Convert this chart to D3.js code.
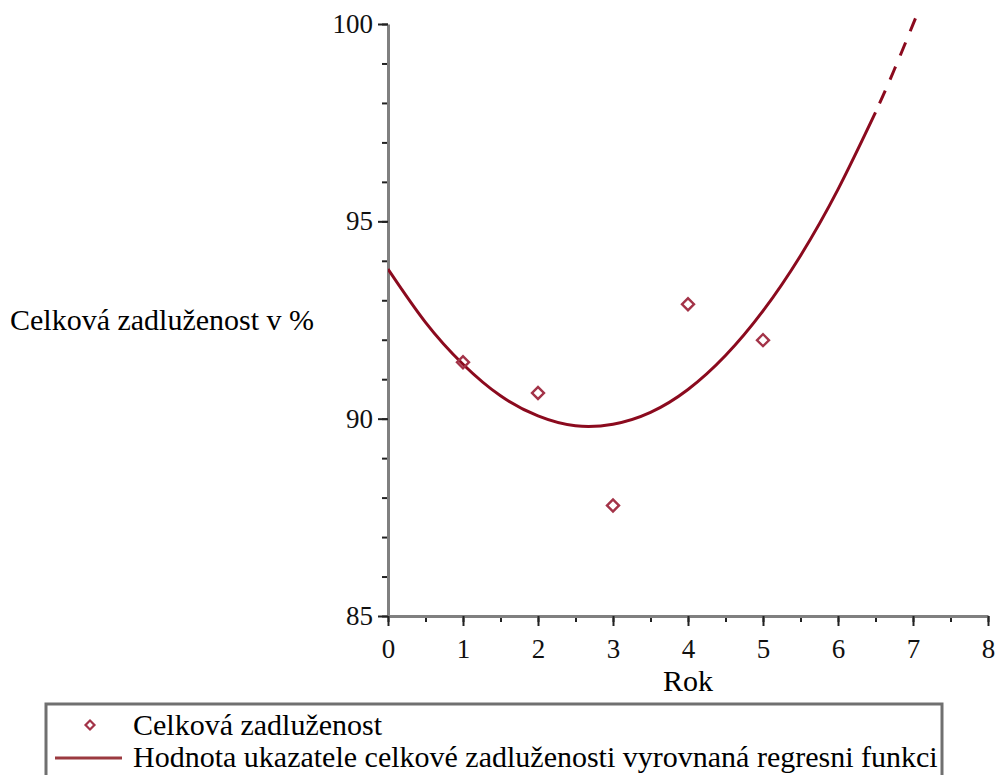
<!DOCTYPE html>
<meta charset="utf-8">
<script src="https://d3js.org/d3.v7.min.js"></script>
<style>
  body { margin: 0; background: #fff; }
  svg text { font-family: "Liberation Serif", "Times New Roman", "DejaVu Serif", serif; }
</style>
<div id="chart"></div>

<script>
// data
const years = [1, 2, 3, 4, 5];
const debtValues = [91.43, 90.65, 87.8, 92.9, 91.99];

// fitted curve (regression)
const curveYears = [0, 0.5, 1, 1.5, 2, 2.5, 3, 3.5, 4, 4.5, 5, 5.5, 6, 6.5];
const curveValues = [93.79, 92.44, 91.38, 90.58, 90.07, 89.82, 89.86, 90.16, 90.74, 91.6, 92.73, 94.13, 95.81, 97.76];
const dashYears = [6.5, 6.75, 7, 7.1];
const dashValues = [97.76, 98.84, 99.99, 100.45];

const xTicks = [0, 1, 2, 3, 4, 5, 6, 7, 8];
const yTicks = [85, 90, 95, 100];

const seriesNames = ["Celková zadluženost", "Hodnota ukazatele celkové zadluženosti vyrovnaná regresni funkci"];
const xTitle = "Rok";
const yTitle = "Celková zadluženost v %";

const W = 996, H = 775;
const serif = "Liberation Serif, Times New Roman, serif";
const curveColor = "#8b0a1e", markColor = "#a33348", axisColor = "#808080";

const svg = d3.select("#chart").append("svg")
  .attr("width", W)
  .attr("height", H)
  .style("display", "block");

const x = d3.scaleLinear().domain([0, 8]).range([388, 988]);
const y = d3.scaleLinear().domain([85, 100]).range([616, 24]);

// clip so the curve stops just above 100
svg.append("clipPath").attr("id", "clip")
  .append("rect")
    .attr("x", x(0)).attr("y", 17)
    .attr("width", x(8) - x(0)).attr("height", y(85) - 17);

// minor ticks
svg.append("g")
  .attr("transform", `translate(${x(0)},0)`)
  .call(d3.axisLeft(y).tickValues(d3.range(85, 101, 1)).tickSize(6).tickFormat(""))
  .call(g => g.select(".domain").remove());
svg.append("g")
  .attr("transform", `translate(0,${y(85)})`)
  .call(d3.axisBottom(x).tickValues(d3.range(0, 8.01, 0.5)).tickSize(6).tickFormat(""))
  .call(g => g.select(".domain").remove());

// y axis
svg.append("g")
  .attr("transform", `translate(${x(0)},0)`)
  .attr("font-family", serif)
  .call(d3.axisLeft(y).tickValues(yTicks).tickSize(10).tickSizeOuter(0).tickPadding(5))
  .call(g => g.attr("font-family", serif).attr("font-size", 27))
  .call(g => g.select(".domain").attr("stroke", axisColor).attr("stroke-width", 3))
  .call(g => g.selectAll(".tick text").attr("fill", "#111"));

// x axis
svg.append("g")
  .attr("transform", `translate(0,${y(85)})`)
  .call(d3.axisBottom(x).tickValues(xTicks).tickSize(10).tickSizeOuter(0).tickPadding(13))
  .call(g => g.attr("font-family", serif).attr("font-size", 27))
  .call(g => g.select(".domain").attr("stroke", axisColor).attr("stroke-width", 3))
  .call(g => g.selectAll(".tick text").attr("fill", "#111"));

svg.selectAll(".tick line").attr("stroke", "#222").attr("stroke-width", 2);

// axis titles
svg.append("text")
  .attr("x", x(4)).attr("y", 691)
  .attr("text-anchor", "middle")
  .attr("font-family", serif)
  .attr("font-size", 30)
  .text(xTitle);

svg.append("text")
  .attr("x", 10).attr("y", 330)
  .attr("font-family", serif)
  .attr("font-size", 30)
  .text(yTitle);

// regression curve
const line = d3.line()
  .x(d => x(d[0]))
  .y(d => y(d[1]))
  .curve(d3.curveNatural);

const plot = svg.append("g").attr("clip-path", "url(#clip)");

plot.append("path")
  .datum(curveYears.map((d, i) => [d, curveValues[i]]))
  .attr("d", line)
  .attr("fill", "none")
  .attr("stroke", curveColor)
  .attr("stroke-width", 3);

plot.append("path")
  .datum(dashYears.map((d, i) => [d, dashValues[i]]))
  .attr("d", line)
  .attr("fill", "none")
  .attr("stroke", curveColor)
  .attr("stroke-width", 3)
  .attr("stroke-dasharray", "14 12")
  .attr("stroke-dashoffset", -10);

// points
const diamond = d3.symbol().type(d3.symbolSquare).size(72);
svg.append("g")
  .selectAll("path")
  .data(years)
  .join("path")
    .attr("d", diamond)
    .attr("transform", (d, i) => `translate(${x(d)},${y(debtValues[i])}) rotate(45)`)
    .attr("fill", "none")
    .attr("stroke", markColor)
    .attr("stroke-width", 2.4);

// legend
const legend = svg.append("g");
legend.append("rect")
  .attr("x", 46).attr("y", 704)
  .attr("width", 896).attr("height", 100)
  .attr("fill", "none")
  .attr("stroke", "#707070")
  .attr("stroke-width", 3);

legend.append("path")
  .attr("d", d3.symbol().type(d3.symbolSquare).size(40))
  .attr("transform", "translate(90,725) rotate(45)")
  .attr("fill", "none")
  .attr("stroke", markColor)
  .attr("stroke-width", 2.2);

legend.append("line")
  .attr("x1", 55).attr("x2", 122)
  .attr("y1", 758).attr("y2", 758)
  .attr("stroke", "#9b3a40")
  .attr("stroke-width", 3);

legend.selectAll("text")
  .data(seriesNames)
  .join("text")
    .attr("x", 133)
    .attr("y", (d, i) => 735 + i * 32)
    .attr("font-family", serif)
    .attr("font-size", 30)
    .text(d => d);
</script>
